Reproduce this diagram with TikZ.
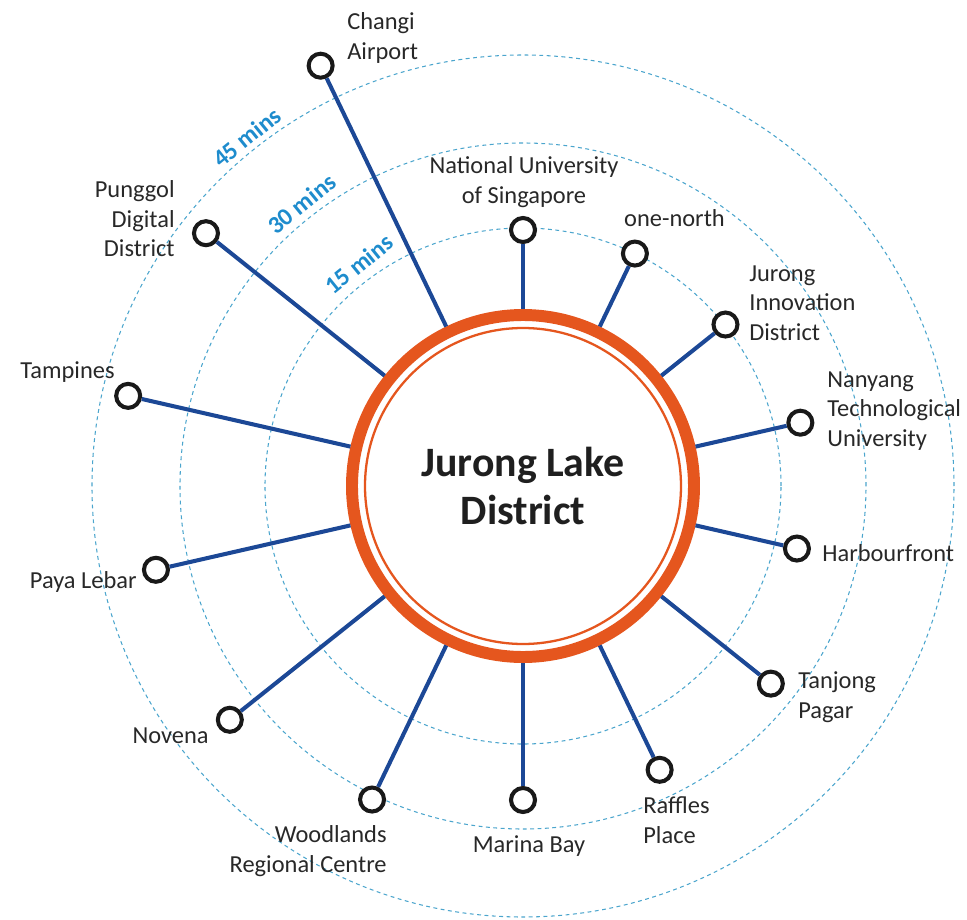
\documentclass[tikz,border=0pt]{standalone}
\usepackage{fontspec}
\setmainfont{Carlito}

\definecolor{jldorange}{RGB}{229,86,30}
\definecolor{lineblue}{RGB}{28,72,150}
\definecolor{zoneblue}{RGB}{75,165,205}
\definecolor{minsblue}{RGB}{30,140,205}
\definecolor{labelgrey}{RGB}{40,40,40}

\begin{document}
\begin{tikzpicture}[
        station/.style={circle, draw=black!90, fill=white, line width=2.3pt,
                        minimum size=4.8mm, inner sep=0pt},
        link/.style={draw=lineblue, line width=2.3pt},
        zone/.style={draw=zoneblue, line width=0.6pt, dash pattern=on 2.2pt off 2pt},
        place/.style={text=labelgrey, inner sep=0pt,
                      font=\fontsize{13.9}{16.8}\selectfont},
        mins/.style={text=minsblue, inner sep=0pt, rotate=39,
                     font=\bfseries\fontsize{14}{16}\selectfont}]
        \useasboundingbox (-10.46, -8.66) rectangle (8.88, 9.72);

        % travel time rings
        \draw[zone] (0, 0) circle (5.16);
        \draw[zone] (0, 0) circle (6.86);
        \draw[zone] (0, 0) circle (8.62);
        \node[mins] (m15) at (126.5:5.52) {15 mins};
        \node[mins] (m30) at (128.1:7.17) {30 mins};
        \node[mins] (m45) at (128.4:8.90) {45 mins};

        % hub
        \node[circle, draw=jldorange, fill=white, line width=6.8pt,
              minimum size=68.4mm, inner sep=0pt, align=center, text=black!88,
              font=\bfseries\fontsize{23.8}{27.8}\selectfont]
            (jld) at (0, 0) {Jurong Lake\\District};
        \draw[jldorange, line width=1.3pt] (jld.center) circle (3.16);

        % stations
        \node[station] (nus)      at (90:5.12)      {};
        \node[station] (onenorth) at (64.29:5.16)   {};
        \node[station] (jid)      at (38.57:5.18)   {};
        \node[station] (ntu)      at (12.86:5.69)   {};
        \node[station] (harbour)  at (-12.86:5.62)  {};
        \node[station] (tanjong)  at (-38.57:6.34)  {};
        \node[station] (raffles)  at (-64.29:6.30)  {};
        \node[station] (marina)   at (-90:6.28)     {};
        \node[station] (woodland) at (-115.71:6.96) {};
        \node[station] (novena)   at (-141.43:7.50) {};
        \node[station] (payalebar) at (-167.14:7.53) {};
        \node[station] (tampines) at (167.14:8.10)  {};
        \node[station] (punggol)  at (141.43:8.11)  {};
        \node[station] (changi)   at (115.71:9.33)  {};

        \foreach \s in {nus, onenorth, jid, ntu, harbour, tanjong, raffles,
                        marina, woodland, novena, payalebar, tampines, punggol, changi}
            \draw[link] (\s) -- (jld);

        % labels
        \node[place, anchor=center, align=center] (nuslbl) at (0.02, 6.08)
            {National University\\of Singapore};
        \node[place, anchor=center] (onenorthlbl) at (3.03, 5.36) {one-north};
        \node[place, anchor=west, align=left] (jidlbl) at (4.52, 3.66)
            {Jurong\\Innovation\\District};
        \node[place, anchor=west, align=left] (ntulbl) at (6.08, 1.50)
            {Nanyang\\Technological\\University};
        \node[place, anchor=west] (harbourlbl) at (5.98, -1.34) {Harbourfront};
        \node[place, anchor=west, align=left] (tanjonglbl) at (5.50, -4.22)
            {Tanjong\\Pagar};
        \node[place, anchor=west, align=left] (raffleslbl) at (2.40, -6.68)
            {Raffles\\Place};
        \node[place, anchor=center] (marinalbl) at (0.12, -7.20) {Marina Bay};
        \node[place, anchor=east, align=right] (woodlandlbl) at (-2.72, -7.30)
            {Woodlands\\Regional Centre};
        \node[place, anchor=east] (novenalbl) at (-6.28, -5.00) {Novena};
        \node[place, anchor=east] (payalebarlbl) at (-7.72, -1.92) {Paya Lebar};
        \node[place, anchor=center] (tampineslbl) at (-9.11, 2.28) {Tampines};
        \node[place, anchor=east, align=right] (punggollbl) at (-6.96, 5.34)
            {Punggol\\Digital\\District};
        \node[place, anchor=west, align=left] (changilbl) at (-3.52, 8.96)
            {Changi\\Airport};
\end{tikzpicture}
\end{document}
